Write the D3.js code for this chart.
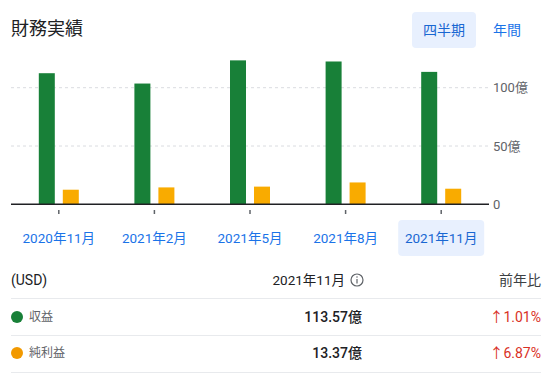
<!DOCTYPE html>
<html>
<head>
<meta charset="utf-8">
<script src="https://cdn.jsdelivr.net/npm/d3@7"></script>
<style>
  html, body { margin: 0; padding: 0; background: #fff; }
  svg { display: block; font-family: Roboto, "Noto Sans CJK JP", sans-serif; }
</style>
</head>
<body>
<svg id="chart" width="555" height="378"></svg>
<script>
const categories = ["2020年11月", "2021年2月", "2021年5月", "2021年8月", "2021年11月"];
const revenue = [112.43, 103.57, 123.44, 122.48, 113.57];
const netIncome = [12.51, 14.49, 15.16, 18.74, 13.37];
const yTicks = [0, 50, 100];
const yTickLabels = ["0", "50億", "100億"];
const seriesNames = ["収益", "純利益"];
const seriesColors = ["#188038", "#f9ab00"];
const legendColors = ["#188038", "#f29900"];
const latestValues = ["113.57億", "13.37億"];
const yoyChanges = ["1.01%", "6.87%"];
const headerLabels = ["(USD)", "2021年11月", "前年比"];
const periodButtons = ["四半期", "年間"];

const svg = d3.select("#chart");

// Title
svg.append("text").attr("x", 11).attr("y", 35)
  .attr("font-size", 18).attr("fill", "#202124").text("財務実績");

// Period buttons
svg.append("rect").attr("x", 412).attr("y", 12).attr("width", 64).attr("height", 36)
  .attr("rx", 4).attr("fill", "#e8f0fe");
svg.append("text").attr("x", 444).attr("y", 30).attr("dy", "0.35em")
  .attr("text-anchor", "middle").attr("font-size", 14).attr("fill", "#1967d2").text(periodButtons[0]);
svg.append("text").attr("x", 507).attr("y", 30).attr("dy", "0.35em")
  .attr("text-anchor", "middle").attr("font-size", 14).attr("fill", "#1a73e8").text(periodButtons[1]);

// Scales
const x = d3.scaleBand().domain(categories).range([11, 489]);
const y = d3.scaleLinear().domain([0, 100]).range([204.3, 87.7]);
const xs = d3.scaleBand().domain(seriesNames).range([-20, 20]).paddingInner(1 / 3);

// Gridlines
svg.append("g").selectAll("line").data(yTicks.filter(d => d > 0)).join("line")
  .attr("x1", 11).attr("x2", 489)
  .attr("y1", d => y(d)).attr("y2", d => y(d))
  .attr("stroke", "#dadce0").attr("stroke-width", 1).attr("stroke-dasharray", "3,3");

// Y labels
svg.append("g").selectAll("text").data(yTicks).join("text")
  .attr("x", 493).attr("y", d => y(d)).attr("dy", "0.35em")
  .attr("font-size", 13).attr("fill", "#5f6368")
  .text((d, i) => yTickLabels[i]);

// Bars
const groups = svg.append("g").selectAll("g").data(categories).join("g")
  .attr("transform", d => `translate(${x(d) + x.bandwidth() / 2},0)`);
groups.each(function (c, i) {
  const vals = [revenue[i], netIncome[i]];
  d3.select(this).selectAll("rect").data(vals).join("rect")
    .attr("x", (v, j) => xs(seriesNames[j]))
    .attr("width", xs.bandwidth())
    .attr("y", v => y(v))
    .attr("height", v => y(0) - y(v))
    .attr("fill", (v, j) => seriesColors[j]);
});

// Baseline
svg.append("line").attr("x1", 11).attr("x2", 489).attr("y1", y(0)).attr("y2", y(0))
  .attr("stroke", "#202124").attr("stroke-width", 1.5);

// Bottom ticks via axis
const axis = svg.append("g").attr("transform", "translate(0,210)")
  .call(d3.axisBottom(x).tickSize(4).tickFormat(""));
axis.select(".domain").remove();
axis.selectAll(".tick line").attr("stroke", "#5f6368").attr("stroke-width", 1.5);

// Category labels (last highlighted)
const lastCat = categories[categories.length - 1];
svg.append("rect").attr("x", x(lastCat) + x.bandwidth() / 2 - 43).attr("y", 220)
  .attr("width", 86).attr("height", 36).attr("rx", 4).attr("fill", "#e8f0fe");
svg.append("g").selectAll("text").data(categories).join("text")
  .attr("x", d => x(d) + x.bandwidth() / 2).attr("y", 238).attr("dy", "0.35em")
  .attr("text-anchor", "middle").attr("font-size", 13.5)
  .attr("fill", d => d === lastCat ? "#1967d2" : "#1a73e8")
  .text(d => d);

// Table
const tLeft = 11, tRight = 541, valRight = 362;
svg.append("text").attr("x", tLeft).attr("y", 280).attr("dy", "0.35em")
  .attr("font-size", 14).attr("fill", "#202124").text(headerLabels[0]);
svg.append("text").attr("x", 345).attr("y", 280).attr("dy", "0.35em").attr("text-anchor", "end")
  .attr("font-size", 13.5).attr("fill", "#202124").text(headerLabels[1]);
// info icon
svg.append("circle").attr("cx", 357).attr("cy", 280).attr("r", 6)
  .attr("fill", "none").attr("stroke", "#5f6368").attr("stroke-width", 1.2);
svg.append("line").attr("x1", 357).attr("x2", 357).attr("y1", 279).attr("y2", 283.5)
  .attr("stroke", "#5f6368").attr("stroke-width", 1.2);
svg.append("circle").attr("cx", 357).attr("cy", 277).attr("r", 0.75).attr("fill", "#5f6368");
svg.append("text").attr("x", tRight).attr("y", 280).attr("dy", "0.35em").attr("text-anchor", "end")
  .attr("font-size", 14).attr("fill", "#3c4043").text(headerLabels[2]);

const dividers = [298, 335, 372];
svg.append("g").selectAll("line").data(dividers).join("line")
  .attr("x1", tLeft).attr("x2", tRight).attr("y1", d => d + 0.5).attr("y2", d => d + 0.5)
  .attr("stroke", "#e8eaed").attr("stroke-width", 1);

const rowY = [317, 353];
const rows = svg.append("g").selectAll("g").data(seriesNames).join("g")
  .attr("transform", (d, i) => `translate(0,${rowY[i]})`);
rows.append("circle").attr("cx", 17).attr("cy", 0).attr("r", 6)
  .attr("fill", (d, i) => legendColors[i]);
rows.append("text").attr("x", 29).attr("dy", "0.35em").attr("font-size", 12)
  .attr("fill", "#5f6368").text(d => d);
rows.append("text").attr("x", valRight).attr("dy", "0.35em").attr("text-anchor", "end")
  .attr("font-size", 14).attr("font-weight", 500).attr("fill", "#202124")
  .text((d, i) => latestValues[i]);
rows.append("text").attr("x", tRight).attr("dy", "0.35em").attr("text-anchor", "end")
  .attr("font-size", 14).attr("fill", "#d93025")
  .text((d, i) => "↑" + yoyChanges[i]);
</script>
</body>
</html>
